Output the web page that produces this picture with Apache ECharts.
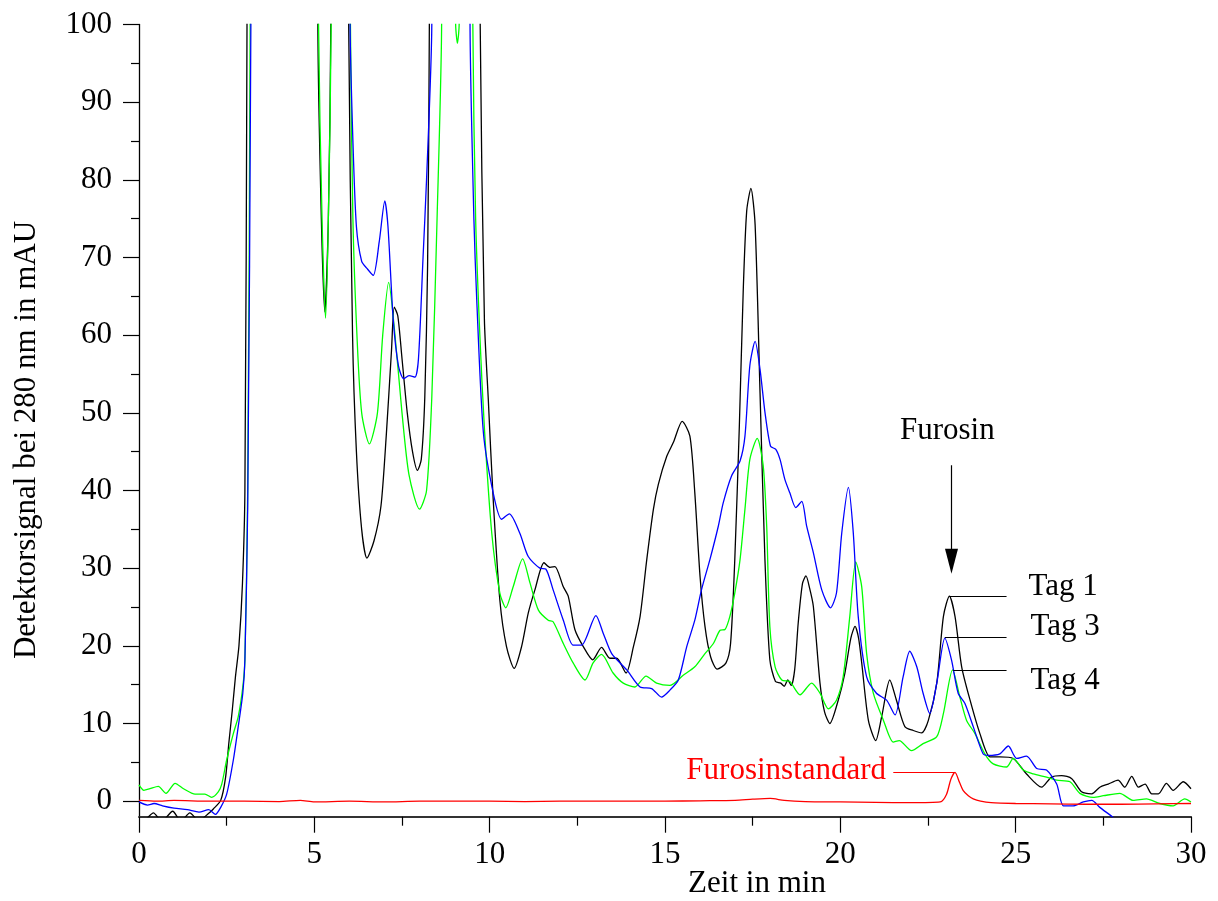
<!DOCTYPE html>
<html>
<head>
<meta charset="utf-8">
<script src="https://cdn.jsdelivr.net/npm/echarts@6/dist/echarts.min.js"></script>
<style>
html,body{margin:0;padding:0;background:#fff;}
#chart{width:1218px;height:901px;}
</style>
</head>
<body>
<div id="chart"></div>
<script>
// ---- data: [time in min, signal in mAU] ----
const tag1 = [[0,-2.6],[0.2,-2.3],[0.41,-1.5],[0.65,-2.6],[0.96,-1.3],[1.2,-2.6],[1.45,-1.5],[1.7,-2.5],[1.98,-1.6],[2.12,-1.0],[2.33,0.1],[2.47,3.1],[2.56,7.4],[2.66,11.7],[2.75,16],[2.85,20],[2.95,28],[3.02,40],[3.08,100],[3.15,250],[5.0,250],[5.1,100],[5.2,75],[5.3,63],[5.4,75],[5.47,100],[5.55,250],[5.9,250],[5.98,100],[6.09,60],[6.2,45],[6.35,35],[6.5,31.3],[6.7,33.5],[6.9,38],[7.05,47],[7.2,58],[7.28,63.6],[7.38,62.5],[7.5,57],[7.65,50],[7.8,45],[7.94,42.6],[8.05,44],[8.15,52],[8.23,69],[8.28,100],[8.35,250],[9.65,250],[9.73,100],[9.85,62],[9.96,51.8],[10.1,38.9],[10.29,25.9],[10.48,19.9],[10.7,17.1],[10.91,19.9],[11.1,24.2],[11.29,27.2],[11.55,30.7],[11.72,30.1],[11.86,30.2],[12.1,27.6],[12.24,26.4],[12.43,22.1],[12.67,19.9],[12.94,18.2],[13.19,19.8],[13.43,18.4],[13.62,18.4],[13.89,16.5],[14.1,19.9],[14.29,23.8],[14.48,31.1],[14.67,37.6],[14.81,40.8],[15.05,44.4],[15.24,46.2],[15.49,48.9],[15.71,47],[15.85,39.7],[16.0,28.9],[16.14,22.5],[16.3,18.6],[16.49,17.0],[16.74,17.8],[16.87,20.3],[16.99,31.1],[17.12,48.3],[17.23,65.6],[17.33,76],[17.45,78.9],[17.57,74.2],[17.71,52.6],[17.85,31.1],[17.99,18.2],[18.15,15.4],[18.3,15.2],[18.4,14.8],[18.5,15.6],[18.6,14.9],[18.7,17],[18.8,23],[18.92,28],[19.02,29],[19.12,27.5],[19.23,25.1],[19.42,15.2],[19.55,11.5],[19.7,10],[19.94,13],[20.13,16.5],[20.3,21],[20.42,22.5],[20.52,21],[20.61,17.8],[20.8,10.4],[21.01,7.8],[21.18,10.9],[21.41,15.6],[21.6,13],[21.84,9.6],[22.08,9.1],[22.32,8.8],[22.51,10.4],[22.75,15.2],[22.94,23.8],[23.11,26.4],[23.27,23.8],[23.46,17.3],[23.7,13],[23.98,8.7],[24.27,5.7],[24.55,5.7],[24.93,5.5],[25.31,3.5],[25.74,1.8],[26.02,3.1],[26.31,3.3],[26.6,2.9],[26.88,1.2],[27.17,0.95],[27.4,1.8],[27.64,2.2],[27.92,2.7],[28.11,1.8],[28.31,3.2],[28.5,1.8],[28.69,2.2],[28.88,0.95],[29.07,0.95],[29.3,2.3],[29.49,1.4],[29.78,2.5],[30,1.6]];

const tag3 = [[0,-0.1],[0.24,-0.5],[0.43,-0.3],[0.67,-0.6],[1.0,-0.9],[1.38,-1.1],[1.71,-1.4],[1.99,-1.1],[2.18,-1.7],[2.33,-0.8],[2.5,0.9],[2.69,5.3],[2.83,9.6],[2.96,13.9],[3.02,18.2],[3.1,38],[3.19,100],[3.25,250],[5.9,250],[6.02,100],[6.1,85],[6.2,74],[6.35,69.5],[6.5,68.6],[6.68,67.7],[6.85,72],[7.01,77.3],[7.1,74],[7.25,62],[7.4,56],[7.55,54.4],[7.7,54.8],[7.87,54.6],[7.97,57],[8.1,70],[8.2,80],[8.35,100],[8.42,250],[9.38,250],[9.44,100],[9.55,75],[9.63,64.7],[9.82,47.5],[10.1,39.7],[10.34,36.3],[10.56,37.0],[10.86,34.5],[11.1,31.5],[11.43,30.0],[11.6,29.9],[11.81,27.2],[12.1,23.3],[12.38,20.1],[12.62,20.1],[13.03,23.9],[13.24,21.6],[13.48,19.0],[13.91,16.9],[14.29,14.7],[14.62,14.5],[14.9,13.4],[15.14,14.3],[15.38,15.6],[15.62,19.9],[15.85,23.3],[16.04,27.2],[16.28,31.1],[16.52,35.4],[16.66,38.4],[16.9,41.9],[17.14,43.8],[17.28,47.0],[17.42,56.1],[17.57,59.2],[17.71,55.6],[17.85,50.1],[18.01,45.7],[18.16,45.3],[18.28,44],[18.42,41.4],[18.56,39.7],[18.73,37.8],[18.9,38.6],[19.04,35.4],[19.23,32],[19.47,27.2],[19.72,24.9],[19.89,26.8],[20.04,34.5],[20.23,40.4],[20.37,34.5],[20.51,23.8],[20.75,16.0],[21.03,13.9],[21.32,13.0],[21.56,11.1],[21.79,16.0],[21.98,19.3],[22.18,17.3],[22.36,13.9],[22.55,11.3],[22.75,15.2],[22.98,21.0],[23.17,18.2],[23.36,13.9],[23.55,12.6],[23.79,9.6],[24.07,6.1],[24.22,5.9],[24.55,6.1],[24.79,7.1],[25.03,5.5],[25.31,5.8],[25.6,4.2],[25.88,4.0],[26.17,2.2],[26.36,-0.6],[26.64,-0.6],[26.93,-0.1],[27.17,0.1],[27.4,-0.8],[27.78,-2.1],[28.0,-3]];

const tag4 = [[0,2.1],[0.14,1.4],[0.31,1.6],[0.55,1.9],[0.77,1.0],[1.03,2.3],[1.27,1.6],[1.6,0.9],[1.88,0.9],[2.07,0.5],[2.26,1.2],[2.36,2.2],[2.5,5.3],[2.69,8.7],[2.83,10.9],[2.96,14.7],[3.02,18.2],[3.1,40],[3.17,100],[3.25,250],[5.0,250],[5.12,100],[5.22,75],[5.32,62.2],[5.4,75],[5.48,100],[5.55,250],[5.95,250],[6.03,100],[6.1,75],[6.22,59.5],[6.35,50],[6.57,46],[6.8,50],[6.95,60],[7.12,66.8],[7.3,60],[7.5,50],[7.7,42],[8.0,37.6],[8.2,40],[8.35,52],[8.5,75],[8.63,100],[8.7,250],[8.95,250],[9.03,100],[9.08,97.6],[9.13,100],[9.2,250],[9.45,250],[9.52,100],[9.6,75],[9.72,60],[9.85,48],[10.06,34.5],[10.29,26.8],[10.46,24.9],[10.67,27.6],[10.94,31.2],[11.15,28.1],[11.39,24.6],[11.67,23.3],[11.81,23.1],[12.1,20.3],[12.38,17.8],[12.72,15.6],[12.95,17.8],[13.19,18.9],[13.52,16.5],[13.81,15.2],[14.14,14.7],[14.46,16.1],[14.76,15.2],[15.14,14.9],[15.52,16.2],[15.85,17.3],[16.14,19.0],[16.38,20.3],[16.57,22.0],[16.71,22.1],[16.85,23.8],[16.99,26.8],[17.14,31.1],[17.28,37.6],[17.42,44.0],[17.63,46.7],[17.8,43.2],[17.9,35.4],[17.99,22.5],[18.14,17.3],[18.33,15.6],[18.56,15.4],[18.85,13.7],[19.18,15.2],[19.42,13.9],[19.66,11.9],[19.89,13.0],[20.08,16.0],[20.27,23.8],[20.44,30.8],[20.61,27.6],[20.75,19.0],[20.94,13.9],[21.23,10.4],[21.51,7.6],[21.68,7.8],[22.03,6.5],[22.36,7.4],[22.75,8.3],[22.94,11.3],[23.2,16.9],[23.41,13.4],[23.6,10.4],[23.84,8.7],[24.12,6.1],[24.36,4.8],[24.74,4.4],[24.93,5.5],[25.22,4.0],[25.5,3.5],[25.88,3.1],[26.17,2.7],[26.55,2.5],[26.83,1.0],[27.21,0.5],[27.5,0.7],[27.97,1.0],[28.35,0.1],[28.73,0.3],[29.11,-0.3],[29.49,-0.6],[29.82,0.3],[30,-0.1]];

const furosinStandard = [[0,0.1],[0.5,0],[1,0.1],[2,0],[3,0],[4,-0.05],[4.6,0.1],[5,-0.1],[6,0],[7,-0.1],[8,0],[9,0],[10,0],[11,-0.05],[12,0],[13,0],[14,0],[15,0],[16,0.05],[17,0.1],[17.5,0.25],[18,0.35],[18.4,0.1],[19,-0.05],[20,-0.1],[21,-0.15],[22,-0.2],[22.85,-0.1],[23.03,0.9],[23.15,2.8],[23.27,3.7],[23.4,2.4],[23.5,1.4],[23.65,0.7],[23.79,0.3],[24,0],[24.3,-0.2],[25,-0.3],[26,-0.35],[27,-0.4],[28,-0.4],[29,-0.35],[30,-0.3]];

const xTicks = [0,5,10,15,20,25,30];
const yMajorTicks = [0,10,20,30,40,50,60,70,80,90,100];
const yMinorTicks = [5,15,25,35,45,55,65,75,85,95];

const FONT = "'Liberation Serif','Times New Roman',serif";
const FS = 31;

const chart = echarts.init(document.getElementById('chart'), null, {renderer:'canvas'});

const lineSeries = (name, data, color) => ({
  name, type:'line', data, showSymbol:false, symbol:'none', smooth:0.25,
  clip:true, lineStyle:{color, width:1.3}, itemStyle:{color}, animation:false, z:2
});

const textPoint = (coord, text, pos, color) => ({
  coord, symbol:'circle', symbolSize:1, itemStyle:{color:'rgba(0,0,0,0)'},
  label:{show:true, position:pos, distance:0, formatter:text, color, fontSize:FS, fontFamily:FONT}
});

const option = {
  backgroundColor:'#fff',
  animation:false,
  grid:{left:139, right:27, top:24.5, bottom:84.3, containLabel:false, outerBoundsMode:'none'},
  xAxis:{
    type:'value', min:0, max:30, interval:5,
    axisLine:{onZero:false, lineStyle:{color:'#333', width:2}},
    axisTick:{show:true, length:16, lineStyle:{color:'#000', width:1.2}},
    minorTick:{show:true, splitNumber:2, length:9, lineStyle:{color:'#000', width:1.2}},
    splitLine:{show:false},
    axisLabel:{color:'#000', fontSize:FS, fontFamily:FONT, margin:23,
      formatter:v => xTicks.includes(v) ? String(v) : ''}
  },
  yAxis:[{
    type:'value', min:-2, max:100,
    axisLine:{onZero:false, lineStyle:{color:'#000', width:1.3}},
    axisTick:{show:true, length:16, customValues:yMajorTicks, lineStyle:{color:'#000', width:1.2}},
    splitLine:{show:false},
    axisLabel:{color:'#000', fontSize:FS, fontFamily:FONT, margin:27, customValues:yMajorTicks}
  },{
    type:'value', min:-2, max:100, position:'left',
    axisLine:{show:false},
    axisTick:{show:true, length:8, customValues:yMinorTicks, lineStyle:{color:'#000', width:1.2}},
    splitLine:{show:false},
    axisLabel:{show:false}
  }],
  graphic:[
    {type:'text', left:null, x:757, y:884, style:{text:'Zeit in min', fill:'#000', font:FS+'px '+FONT, textAlign:'center', textVerticalAlign:'middle'}},
    {type:'text', x:27, y:440, rotation:Math.PI/2, style:{text:'Detektorsignal bei 280 nm in mAU', fill:'#000', font:FS+'px '+FONT, textAlign:'center', textVerticalAlign:'middle'}}
  ],
  series:[
    lineSeries('Tag 1', tag1, '#000000'),
    lineSeries('Tag 4', tag4, '#00ff00'),
    lineSeries('Tag 3', tag3, '#0000ff'),
    Object.assign(lineSeries('Furosinstandard', furosinStandard, '#ff0000'), {
      z:3,
      markLine:{
        silent:true, animation:false, symbol:['none','none'],
        label:{show:false},
        emphasis:{disabled:true},
        data:[
          [{coord:[23.1,26.4], lineStyle:{color:'#000', width:1.2, type:'solid'}},{coord:[24.74,26.4]}],
          [{coord:[22.98,21.05], lineStyle:{color:'#000', width:1.2, type:'solid'}},{coord:[24.74,21.05]}],
          [{coord:[23.22,16.84], lineStyle:{color:'#000', width:1.2, type:'solid'}},{coord:[24.74,16.84]}],
          [{coord:[21.51,3.74], lineStyle:{color:'#ff0000', width:1.2, type:'solid'}},{coord:[23.27,3.74]}],
          [{coord:[23.17,43.25], lineStyle:{color:'#000', width:1.2, type:'solid'}},
           {coord:[23.17,30.9], symbol:'triangle', symbolSize:[13,25]}]
        ]
      },
      markPoint:{
        silent:true, animation:false,
        data:[
          textPoint([23.05,47.72], 'Furosin', 'inside', '#000'),
          textPoint([25.35,27.55], 'Tag 1', 'right', '#000'),
          textPoint([25.41,22.48], 'Tag 3', 'right', '#000'),
          textPoint([25.41,15.49], 'Tag 4', 'right', '#000'),
          textPoint([21.32,3.93], 'Furosinstandard', 'left', '#ff0000')
        ]
      }
    })
  ]
};
chart.setOption(option);
</script>
</body>
</html>
